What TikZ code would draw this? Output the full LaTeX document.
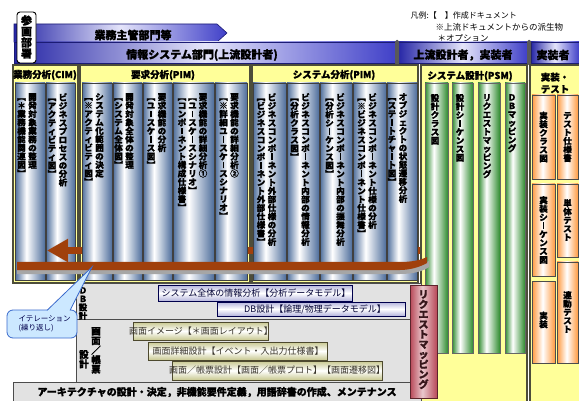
\documentclass[tikz,border=0pt]{standalone}
\usepackage{fontspec}
\setmainfont{Noto Sans CJK JP}[BoldFeatures={FakeBold=1.2}]
\usetikzlibrary{arrows.meta}

\definecolor{jaune}{HTML}{FFFF99}
\definecolor{cadre}{HTML}{4D4D3A}
\definecolor{bleucyl}{HTML}{4E6E9C}
\definecolor{vertcyl}{HTML}{2E8B2E}
\definecolor{orangecyl}{HTML}{FF9A40}
\definecolor{rosecyl}{HTML}{B84858}
\definecolor{bandefonce}{HTML}{2626A6}
\definecolor{bandeclair}{HTML}{E4E4FA}
\definecolor{bandemoyen}{HTML}{4040C8}
\definecolor{brun}{HTML}{A0400C}
\definecolor{marbre}{HTML}{E2E2E2}
\definecolor{lavande}{HTML}{B4B4DC}
\definecolor{olivepale}{HTML}{C8C890}
\definecolor{bullefond}{HTML}{CCE8FF}
\definecolor{bullebord}{HTML}{3A6ACC}

\pgfdeclarehorizontalshading{cylbleu}{100bp}{color(0bp)=(bleucyl); color(25bp)=(bleucyl); color(44bp)=(white); color(75bp)=(bleucyl); color(100bp)=(bleucyl)}
\pgfdeclarehorizontalshading{cylvert}{100bp}{color(0bp)=(vertcyl); color(25bp)=(vertcyl); color(44bp)=(white); color(75bp)=(vertcyl); color(100bp)=(vertcyl)}
\pgfdeclarehorizontalshading{cylorange}{100bp}{color(0bp)=(orangecyl); color(25bp)=(orangecyl); color(48bp)=(white); color(75bp)=(orangecyl); color(100bp)=(orangecyl)}
\pgfdeclarehorizontalshading{cylrose}{100bp}{color(0bp)=(rosecyl); color(25bp)=(rosecyl); color(48bp)=(rosecyl!30!white); color(75bp)=(rosecyl); color(100bp)=(rosecyl)}

% Écriture verticale : un caractère par ligne
\makeatletter
\def\tate@long{ー}
\def\tate@ouv{【}
\def\tate@ferm{】}
\newcommand\tatecar[1]{%
  \ifx#1\tate@long \rule[-0.02em]{0.12em}{0.8em}%
  \else\ifx#1\tate@ouv ︻%
  \else\ifx#1\tate@ferm ︼%
  \else #1\fi\fi\fi}
\newcommand\tate[1]{\vtop{\baselineskip=1em\lineskiplimit=-\maxdimen\lineskip=0pt
  \@tfor\tate@c:=#1\do{\hbox to 1em{\hss\tatecar\tate@c\hss}}}}
\makeatother

\begin{document}
\begin{tikzpicture}[x=1pt, y=-1pt,
  section/.style={draw=cadre, line width=1.4pt, fill=jaune},
  entete/.style={font=\bfseries\fontsize{9.5}{11}\selectfont},
  bande/.style={draw=bandefonce!70!black, line width=0.6pt, left color=bandefonce, right color=bandemoyen, middle color=bandeclair},
  bandetexte/.style={font=\bfseries\fontsize{11}{13}\selectfont},
  colbleu/.style={draw=black!75, line width=0.8pt, shading=cylbleu},
  colvert/.style={draw=black!60, line width=0.8pt, shading=cylvert},
  colorange/.style={draw=black!70, line width=0.8pt, shading=cylorange},
  vtexte/.style={anchor=north, inner sep=0pt, font=\bfseries\fontsize{8.5}{9}\selectfont},
  marbrebox/.style={draw=black!70, line width=0.8pt, fill=marbre},
  barbleu/.style={draw=blue!30!black, line width=0.7pt, top color=lavande, bottom color=lavande, middle color=white},
  barolive/.style={draw=olive!40!black, line width=0.7pt, top color=olivepale, bottom color=olivepale, middle color=white},
  bartexte/.style={font=\fontsize{9}{11}\selectfont},
]
\useasboundingbox (0,0) rectangle (579,401);

% Légende
\node[anchor=west, font=\fontsize{8}{10}\selectfont] (leg1) at (407,15) {凡例:【　】作成ドキュメント};
\node[anchor=west, font=\fontsize{8.5}{10}\selectfont] (leg2) at (432,27) {※上流ドキュメントからの派生物};
\node[anchor=west, font=\fontsize{8.5}{10}\selectfont] (leg3) at (434,38) {＊オプション};

% Bandes des départements
\shadedraw[bande] (14,24) -- (217,24) -- (227,33) -- (217,42) -- (14,42) -- cycle;
\shadedraw[bande] (14,42) rectangle (396,63);
\shadedraw[bande] (398,42) rectangle (527,63);
\shadedraw[bande] (531,42) rectangle (579,63);
\fill[black!65, rounded corners=1.5pt] (395,40) rectangle (399,65);
\fill[black!65, rounded corners=1.5pt] (527,40) rectangle (531,65);
\node[bandetexte] (gyomu) at (133,35) {業務主管部門等};
\node[bandetexte] (joho) at (202,55) {情報システム部門(上流設計者)};
\node[bandetexte] (jissou1) at (463,55) {上流設計者，実装者};
\node[bandetexte] (jissou2) at (553,55) {実装者};

% Participants
\draw[fill=white, line width=0.9pt, rounded corners=3pt] (17,12) rectangle (36,63);
\node[vtexte, font=\bfseries\fontsize{11}{12}\selectfont] (sankaku) at (26.5,15) {\tate{参画部署}};

% Phases
\draw[section] (13,65) rectangle (78,283);
\draw[section] (80,65) rectangle (250,283);
\draw[section] (252,65) rectangle (418,283);
\draw[section] (421,65) rectangle (527,403);
\draw[section] (530,65) rectangle (581,403);
\node[entete] (cim) at (45,75) {業務分析(CIM)};
\node[entete] (pim1) at (163,75) {要求分析(PIM)};
\node[entete] (pim2) at (334,75) {システム分析(PIM)};
\node[entete] (psm) at (470,76) {システム設計(PSM)};
\node[entete, align=center, font=\bfseries\fontsize{9.5}{12}\selectfont] (impl) at (555,83) {実装・\\テスト};

% Analyse métier
\shadedraw[colbleu] (15,83) rectangle (45,280);
\shadedraw[colbleu] (46,83) rectangle (75,280);
\node[vtexte] (cim1) at (27,93) {\tate{【＊業務機能関連図】}\kern2.5pt\tate{開発対象業務の整理}};
\node[vtexte] (cim2) at (57.5,93) {\tate{【アクティビティ図】}\kern2.5pt\tate{ビジネスプロセスの分析}};

% Flèche de retour
\coordinate (retourD) at (420,250.5);
\coordinate (retourG) at (47,250.5);
\draw[brun, line width=7pt, -{Triangle[length=21pt, width=22pt]}] (retourD) -- (retourG);

% Analyse des exigences
\shadedraw[colbleu] (82,83) rectangle (112,280);
\shadedraw[colbleu] (113,83) rectangle (142,280);
\shadedraw[colbleu] (143,83) rectangle (172,280);
\shadedraw[colbleu] (173,83) rectangle (214,280);
\shadedraw[colbleu] (215,83) rectangle (247,280);
\node[vtexte] (req1) at (94,93) {\tate{【※アクティビティ図】}\kern2.5pt\tate{システム化範囲の決定}};
\node[vtexte] (req2) at (124,93) {\tate{【システム全体図】}\kern2.5pt\tate{開発対象全体の整理}};
\node[vtexte] (req3) at (156.5,93) {\tate{【ユースケース図】}\kern2.5pt\tate{要求機能の分析}};
\node[vtexte] (req4) at (192.5,93) {\tate{【コンポーネント構成仕様書】}\kern2pt\tate{【ユースケースシナリオ】}\kern2pt\tate{要求機能の詳細分析①}};
\node[vtexte] (req5) at (229,93) {\tate{【※詳細ユースケースシナリオ】}\kern2.5pt\tate{要求機能の詳細分析②}};

% Analyse système
\shadedraw[colbleu] (253,83) rectangle (286,280);
\shadedraw[colbleu] (287,83) rectangle (319,280);
\shadedraw[colbleu] (320,83) rectangle (352,280);
\shadedraw[colbleu] (353,83) rectangle (386,280);
\shadedraw[colbleu] (387,83) rectangle (417,280);
\node[vtexte] (sys1) at (266.5,93) {\tate{【ビジネスコンポーネント外部仕様書】}\kern2.5pt\tate{ビジネスコンポーネント外部仕様の分析}};
\node[vtexte] (sys2) at (300,93) {\tate{【分析クラス図】}\kern2.5pt\tate{ビジネスコンポーネント内部の情報分析}};
\node[vtexte] (sys3) at (335,93) {\tate{【分析シーケンス図】}\kern2.5pt\tate{ビジネスコンポーネント内部の振舞分析}};
\node[vtexte] (sys4) at (367,93) {\tate{【※ビジネスコンポーネント仕様書】}\kern2.5pt\tate{ビジネスコンポーネント仕様の分析}};
\node[vtexte] (sys5) at (397.5,93) {\tate{【ステートチャート図】}\kern2.5pt\tate{オブジェクトの状態遷移分析}};

% Conception système
\shadedraw[colvert] (425,83) rectangle (448,353);
\shadedraw[colvert] (452,83) rectangle (473,353);
\shadedraw[colvert] (478,83) rectangle (500,353);
\shadedraw[colvert] (505,83) rectangle (525,353);
\node[vtexte] (psm1) at (435,94) {\tate{設計クラス図}};
\node[vtexte] (psm2) at (460,94) {\tate{設計シーケンス図}};
\node[vtexte] (psm3) at (487,94) {\tate{リクエストマッピング}};
\node[vtexte] (psm4) at (512,94) {\tate{ＤＢマッピング}};

% Implémentation et tests
\shadedraw[colorange] (532,95) rectangle (555,179);
\shadedraw[colorange] (532,184) rectangle (555,276);
\shadedraw[colorange] (532,281) rectangle (555,363);
\shadedraw[colorange] (557,95) rectangle (578,179);
\shadedraw[colorange] (557,184) rectangle (578,257);
\shadedraw[colorange] (557,262) rectangle (578,363);
\node[vtexte, anchor=center] (imp1) at (543.5,137) {\tate{実装クラス図}};
\node[vtexte, anchor=center] (imp2) at (543.5,230) {\tate{実装シーケンス図}};
\node[vtexte, anchor=center] (imp3) at (543.5,320) {\tate{実装}};
\node[vtexte, anchor=center] (test1) at (567.5,137) {\tate{テスト仕様書}};
\node[vtexte, anchor=center] (test2) at (567.5,220) {\tate{単体テスト}};
\node[vtexte, anchor=center] (test3) at (567.5,312) {\tate{連動テスト}};

% Zone marbre : DB et écrans
\draw[marbrebox] (76,283) rectangle (421,319);
\draw[marbrebox] (76,319) rectangle (421,382);
\draw[marbrebox] (13,382) rectangle (421,401);
\node[vtexte] (dbsekkei) at (83,287) {\tate{ＤＢ設計}};
\node[vtexte, font=\bfseries\fontsize{9.5}{10}\selectfont] (gamen) at (96,327) {\tate{画面／帳票}};
\node[vtexte, font=\bfseries\fontsize{9.5}{10}\selectfont] (gamen2) at (84,350) {\tate{設計}};

\shadedraw[barbleu] (158,285) rectangle (352,301);
\shadedraw[barbleu] (217,302) rectangle (405,316);
\node[bartexte, text=blue!20!black] (joho2) at (256,293) {システム全体の情報分析【分析データモデル】};
\node[bartexte, text=blue!20!black] (dbmodel) at (315,309) {DB設計【論理/物理データモデル】};

\shadedraw[barolive] (133,322) rectangle (268,340);
\shadedraw[barolive] (148,342) rectangle (327,360);
\shadedraw[barolive] (172,361) rectangle (382,380);
\node[bartexte, text=olive!20!black] (image) at (201,331) {画面イメージ【＊画面レイアウト】};
\node[bartexte, text=olive!20!black] (shosai) at (238,351) {画面詳細設計【イベント・入出力仕様書】};
\node[bartexte, text=olive!20!black] (chohyo) at (277,370.5) {画面／帳票設計【画面／帳票プロト】【画面遷移図】};

\node[font=\bfseries\fontsize{10}{12}\selectfont] (archi) at (217,392) {アーキテクチャの設計・決定，非機能要件定義，用語辞書の作成、メンテナンス};

% Mapping des requêtes
\shadedraw[draw=rosecyl!50!black, line width=0.9pt, shading=cylrose] (410,285) rectangle (437,398);
\node[vtexte, font=\bfseries\fontsize{10}{10}\selectfont, text=rosecyl!30!black] (mapping) at (423.5,290) {\tate{リクエストマッピング}};

% Bande d'itération
\fill[black!35] (17,266) -- (400,266) .. controls (413,266) and (423,264) .. (429,261) -- (429,267) .. controls (422,272) and (411,274) .. (400,274) -- (17,274) -- cycle;
\fill[brun] (17,262) -- (400,262) .. controls (412,262) and (421,260) .. (427,257) -- (427,263) .. controls (420,267) and (410,270) .. (400,270) -- (17,270) -- cycle;

% Bulle
\draw[fill=bullefond, draw=bullebord, line width=0.8pt, rounded corners=6pt] (7,310) rectangle (77,338);
\fill[bullefond] (47,311) -- (92,267) -- (70,311) -- cycle;
\draw[bullebord, line width=0.8pt] (47,310.4) -- (92,267) -- (70,310.4);
\node[anchor=west, align=left, text=blue!30!black, font=\fontsize{7.5}{9}\selectfont] (iteration) at (15,324) {イテレーション\\(繰り返し)};

\end{tikzpicture}
\end{document}
